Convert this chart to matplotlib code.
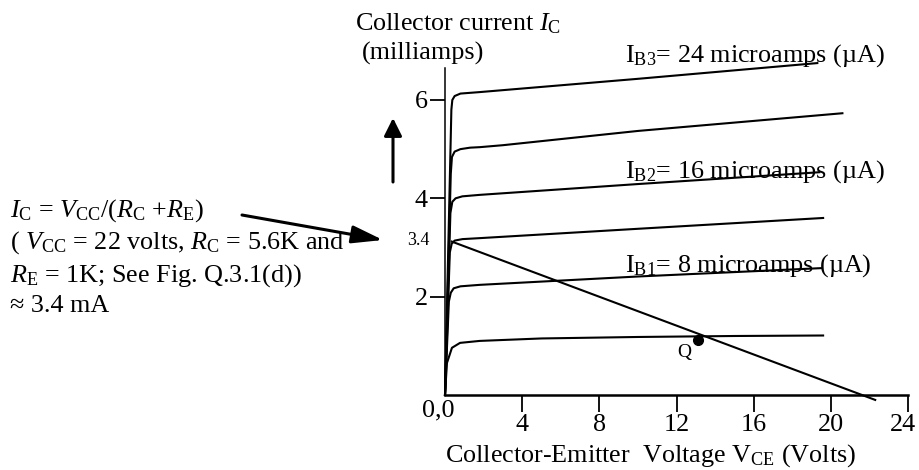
# Transistor output characteristics with DC load line
# collector current vs collector-emitter voltage

import matplotlib
matplotlib.use("Agg")
import matplotlib.pyplot as plt
from matplotlib.transforms import ScaledTranslation

plt.rcParams['font.family'] = ['Liberation Serif', 'DejaVu Serif']
plt.rcParams['mathtext.fontset'] = 'custom'
plt.rcParams['mathtext.rm'] = 'Liberation Serif'
plt.rcParams['mathtext.it'] = 'Liberation Serif:italic'
plt.rcParams['mathtext.bf'] = 'Liberation Serif:bold'

FS = 18.8

# Characteristic curves (volts, milliamps)
c1_v = [0.0, 0.1, 0.36, 0.78, 1.8, 5.0, 10.0, 15.0, 19.6]
c1_i = [0.0, 0.65, 0.96, 1.06, 1.10, 1.15, 1.18, 1.20, 1.21]

c2_v = [0.0, 0.2, 0.3, 0.45, 0.8, 1.8, 10.0, 19.5]
c2_i = [0.0, 1.9, 2.08, 2.17, 2.21, 2.24, 2.41, 2.58]

c3_v = [0.0, 0.25, 0.35, 0.5, 0.9, 1.8, 10.0, 19.6]
c3_i = [0.0, 2.9, 3.08, 3.14, 3.17, 3.19, 3.38, 3.60]

c4_v = [0.0, 0.28, 0.38, 0.55, 0.9, 1.8, 10.0, 19.4]
c4_i = [0.0, 3.7, 3.93, 4.0, 4.04, 4.07, 4.29, 4.53]

c5_v = [0.0, 0.3, 0.36, 0.5, 0.8, 1.3, 1.8, 3.0, 10.0, 20.6]
c5_i = [0.0, 4.5, 4.84, 4.95, 5.0, 5.03, 5.04, 5.08, 5.37, 5.73]

c6_v = [0.0, 0.33, 0.38, 0.5, 0.8, 1.8, 10.0, 19.3]
c6_i = [0.0, 5.8, 6.0, 6.08, 6.13, 6.16, 6.43, 6.75]

curves_v = [c1_v, c2_v, c3_v, c4_v, c5_v, c6_v]
curves_i = [c1_i, c2_i, c3_i, c4_i, c5_i, c6_i]

# DC load line and operating point
load_v = [0.35, 22.3]
load_i = [3.12, -0.1]
q_v = 13.1
q_i = 1.12

x_ticks = [4, 8, 12, 16, 20, 24]
y_ticks = [2, 4, 6]

W, H = 919, 470
fig = plt.figure(figsize=(W / 100, H / 100), dpi=100)
ax = fig.add_axes([445 / W, 75 / H, 463 / W, 327 / H])

for v, i in zip(curves_v, curves_i):
    ax.plot(v, i, color='black', lw=1.5, clip_on=False, solid_joinstyle='round')

ax.plot(load_v, load_i, color='black', lw=1.5, clip_on=False)
ax.plot([q_v], [q_i], 'o', color='black', ms=7, clip_on=False)

ax.set_xlim(0, 24)
ax.set_ylim(0, 6.65)
ax.spines['top'].set_visible(False)
ax.spines['right'].set_visible(False)
ax.spines['bottom'].set_linewidth(1.8)
ax.spines['left'].set_linewidth(1.1)

ax.set_xticks(x_ticks)
ax.set_xticklabels([str(t) for t in x_ticks], fontsize=FS)
ax.set_yticks(y_ticks)
ax.set_yticklabels([str(t) for t in y_ticks], fontsize=FS)
ax.tick_params(axis='x', direction='out', length=12, width=1.3, pad=2)
ax.tick_params(axis='y', direction='out', length=10.5, width=1.3, pad=2)

# the last label sits at the image edge, nudge it left a little
last = ax.get_xticklabels()[-1]
last.set_transform(last.get_transform() + ScaledTranslation(-5 / 100, 0, fig.dpi_scale_trans))

# Texts, placed in figure pixels measured from the top-left
def ftext(x, y, s, **kw):
    fig.text(x / W, 1 - y / H, s, va='baseline', **kw)

ftext(355, 30, r'Collector current $I_{\mathrm{C}}$', fontsize=FS)
ftext(362, 60, '(milliamps)', fontsize=FS)
ftext(445, 462, r'Collector-Emitter  Voltage $\mathrm{V_{CE}}$ (Volts)', fontsize=FS)
ftext(438, 416, '0,0', fontsize=FS, ha='center')
ftext(430, 245, '3.4', fontsize=13, ha='right')

ftext(625, 62, r'$\mathrm{I_{B3}}$= 24 microamps (µA)', fontsize=FS)
ftext(625, 178, r'$\mathrm{I_{B2}}$= 16 microamps (µA)', fontsize=FS)
ftext(625, 272, r'$\mathrm{I_{B1}}$= 8 microamps (µA)', fontsize=FS)

ax.text(q_v - 0.7, q_i - 0.25, 'Q', fontsize=14, ha='center', va='center')

ftext(10, 217, r'$I_{\mathrm{C}}$ = $V_{\mathrm{CC}}$/($R_{\mathrm{C}}$ +$R_{\mathrm{E}}$)', fontsize=FS)
ftext(10, 249, r'( $V_{\mathrm{CC}}$ = 22 volts, $R_{\mathrm{C}}$ = 5.6K and', fontsize=FS)
ftext(10, 282, r'$R_{\mathrm{E}}$ = 1K; See Fig. Q.3.1(d))', fontsize=FS)
ftext(10, 312, '≈ 3.4 mA', fontsize=FS)

# Arrows
fig.add_artist(matplotlib.patches.FancyArrowPatch(
    (242, H - 215), (383, H - 240), transform=None,
    arrowstyle='-|>,head_length=0.7,head_width=0.2', mutation_scale=27,
    color='black', lw=2.2, shrinkA=0, shrinkB=0))
fig.add_artist(matplotlib.patches.FancyArrowPatch(
    (393, H - 182), (393, H - 118), transform=None,
    arrowstyle='-|>,head_length=0.4,head_width=0.2', mutation_scale=27,
    color='black', lw=2.2, shrinkA=0, shrinkB=0))

plt.savefig("out.png", dpi=100)
